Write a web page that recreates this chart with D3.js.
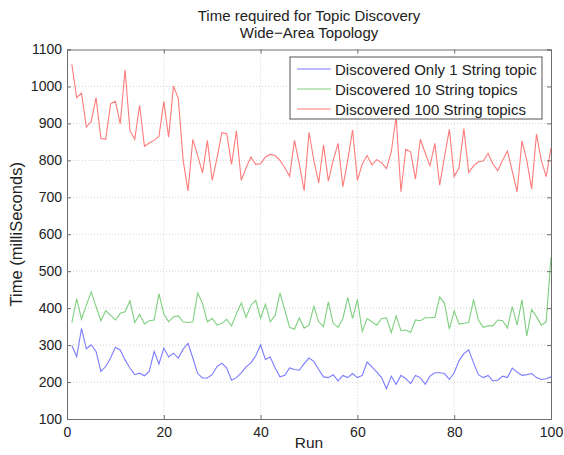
<!DOCTYPE html>
<html><head><meta charset="utf-8">
<script src="https://cdn.jsdelivr.net/npm/d3@7/dist/d3.min.js"></script>
<style>body{margin:0;background:#fff}svg{display:block}text{font-family:"Liberation Sans",Arial,sans-serif}</style>
</head><body><div id="c"></div>
<script>
const runs = d3.range(1, 101);
const seriesNames = ["Discovered Only 1 String topic","Discovered 10 String topics","Discovered 100 String topics"];
const blue = [299,269,345,290,301,283,229,242,265,294,287,260,238,220,224,217,229,283,249,292,268,278,265,289,305,265,223,211,211,220,242,251,238,
  205,212,225,241,252,271,301,261,268,238,214,218,238,234,232,250,265,256,234,214,212,220,203,218,212,223,212,218,254,241,227,212,182,
  216,194,218,209,196,218,212,194,216,225,225,223,207,225,258,277,287,252,220,212,218,203,205,216,212,238,227,218,220,223,212,207,209,214];
const green = [361,426,370,408,444,404,366,393,381,368,386,390,420,361,383,357,366,368,439,384,363,377,379,363,361,363,441,413,363,372,354,359,370,
  352,385,414,375,408,421,372,411,363,381,441,395,348,343,374,346,354,405,363,350,417,359,348,372,429,372,423,337,372,363,354,372,374,
  334,379,339,341,334,368,366,374,374,375,430,413,343,392,357,359,361,423,368,348,352,352,368,366,346,404,354,423,325,396,377,354,363,538];
const red = [1060,970,982,890,905,970,860,857,953,960,899,1045,881,857,949,838,847,854,865,959,863,1001,967,800,717,857,813,766,854,746,807,875,872,
  789,880,746,780,809,789,791,809,816,813,800,780,757,854,790,718,876,800,739,842,744,800,846,729,800,882,746,790,813,788,802,794,778,
  823,918,715,830,823,749,857,820,785,846,733,810,884,756,780,886,767,785,796,798,819,790,772,800,825,770,715,853,800,722,871,800,756,834];
const xTicks = [0,20,40,60,80,100];
const yTicks = [100,200,300,400,500,600,700,800,900,1000,1100];
const colors = ["#7b7bff","#7fcf7f","#ff7b7b"];

const W = 564, H = 455;
const m = {l:67, r:551, t:49.5, b:419};
const svg = d3.select("#c").append("svg").attr("width",W).attr("height",H);
const x = d3.scaleLinear().domain([0,100]).range([m.l,m.r]);
const y = d3.scaleLinear().domain([100,1100]).range([m.b,m.t]);

// grid
const g = svg.append("g");
g.selectAll(".gx").data(xTicks.slice(1,-1)).join("line")
  .attr("x1",d=>x(d)).attr("x2",d=>x(d)).attr("y1",m.t).attr("y2",m.b)
  .attr("stroke","#c8c8c8").attr("stroke-width",0.8).attr("stroke-dasharray","1,2");
g.selectAll(".gy").data(yTicks.slice(1,-1)).join("line")
  .attr("y1",d=>y(d)).attr("y2",d=>y(d)).attr("x1",m.l).attr("x2",m.r)
  .attr("stroke","#c8c8c8").attr("stroke-width",0.8).attr("stroke-dasharray","1,2");

// lines
const line = d3.line().x((d,i)=>x(runs[i])).y(d=>y(d));
[blue,green,red].forEach((s,k)=>{
  svg.append("path").datum(s).attr("d",line).attr("fill","none")
    .attr("stroke",colors[k]).attr("stroke-width",1.1);
});

// axes (MATLAB box with inward ticks)
const fmt = d3.format("d");
const axBottom = d3.axisBottom(x).tickValues(xTicks).tickSize(-4).tickPadding(8).tickFormat(fmt);
const axLeft = d3.axisLeft(y).tickValues(yTicks).tickSize(-4).tickPadding(5).tickFormat(fmt);
const axTop = d3.axisTop(x).tickValues(xTicks).tickSize(-4).tickFormat("");
const axRight = d3.axisRight(y).tickValues(yTicks).tickSize(-4).tickFormat("");
function style(sel){
  sel.selectAll("path").attr("stroke","#6e6e6e");
  sel.selectAll("line").attr("stroke","#6e6e6e");
  sel.selectAll("text").attr("fill","#222").style("font-size","14px").style("font-family","'Liberation Sans',Arial,sans-serif");
}
svg.append("g").attr("transform",`translate(0,${m.b})`).call(axBottom).call(style);
svg.append("g").attr("transform",`translate(${m.l},0)`).call(axLeft).call(style);
svg.append("g").attr("transform",`translate(0,${m.t})`).call(axTop).call(style);
svg.append("g").attr("transform",`translate(${m.r},0)`).call(axRight).call(style);

// titles
svg.append("text").attr("x",(m.l+m.r)/2).attr("y",21).attr("text-anchor","middle")
  .style("font-size","15px").attr("fill","#222").text("Time required for Topic Discovery");
svg.append("text").attr("x",(m.l+m.r)/2).attr("y",38).attr("text-anchor","middle")
  .style("font-size","15px").attr("fill","#222").text("Wide\u2212Area Topology");
svg.append("text").attr("x",(m.l+m.r)/2).attr("y",448).attr("text-anchor","middle")
  .style("font-size","15.5px").attr("fill","#222").text("Run");
svg.append("text").attr("transform",`translate(22,${(m.t+m.b)/2}) rotate(-90)`).attr("text-anchor","middle")
  .style("font-size","16.5px").attr("fill","#222").text("Time (milliSeconds)");

// legend
const lg = svg.append("g");
lg.append("rect").attr("x",290).attr("y",57).attr("width",252).attr("height",62)
  .attr("fill","#fff").attr("stroke","#555").attr("stroke-width",1);
seriesNames.forEach((n,k)=>{
  const yy = 69 + k*20;
  lg.append("line").attr("x1",297).attr("x2",331).attr("y1",yy).attr("y2",yy)
    .attr("stroke",colors[k]).attr("stroke-width",1.1);
  lg.append("text").attr("x",335).attr("y",yy+5.5).style("font-size","15px").attr("fill","#222").text(n);
});
</script></body></html>
